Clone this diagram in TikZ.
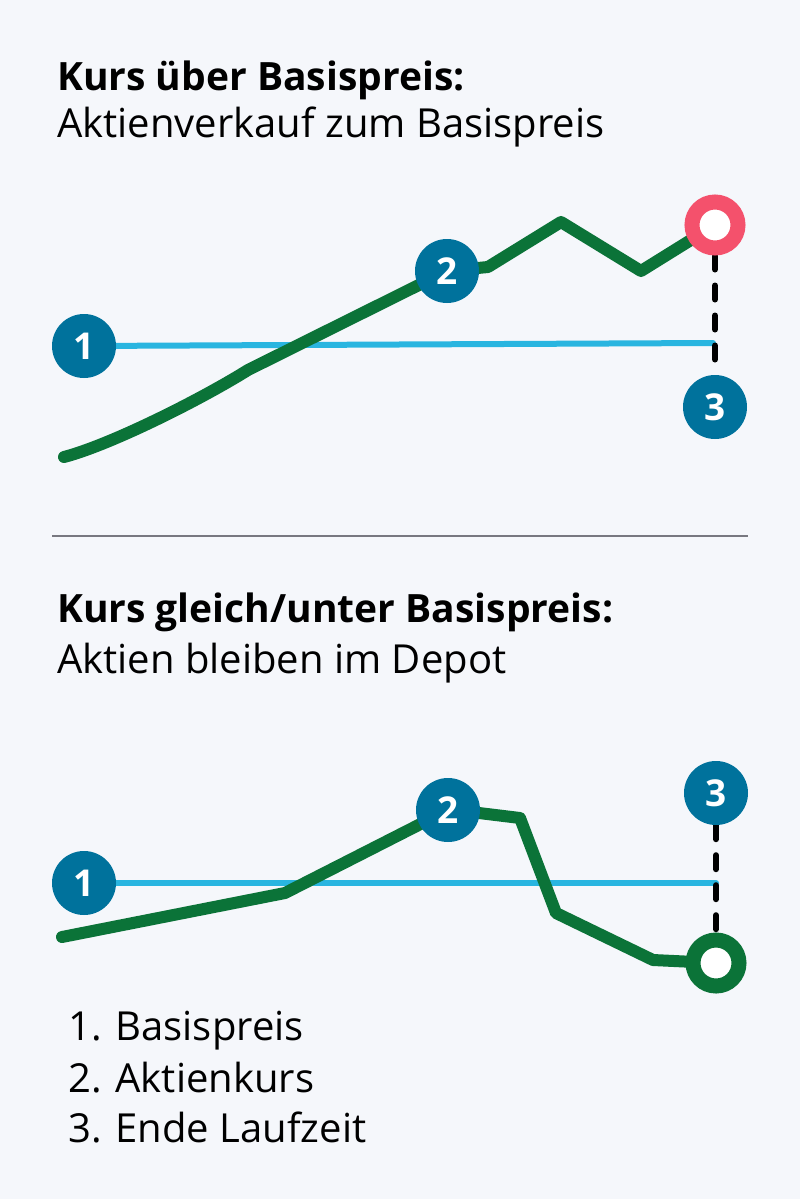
\documentclass[tikz,border=0pt]{standalone}
\usepackage{fontspec}
\setmainfont{Open Sans}
\usepackage{tikz}

\definecolor{hgrund}{RGB}{245,247,251}
\definecolor{dunkelblau}{RGB}{0,114,156}
\definecolor{hellblau}{RGB}{41,181,224}
\definecolor{kursgruen}{RGB}{11,115,56}
\definecolor{rosarot}{RGB}{244,81,108}
\definecolor{trenngrau}{RGB}{120,120,128}

\pgfdeclarelayer{hinten}
\pgfdeclarelayer{linien}
\pgfsetlayers{hinten,linien,main}

\begin{document}
\begin{tikzpicture}[x=1pt, y=-1pt,
    nummer/.style={circle, fill=dunkelblau, text=white, minimum size=64pt, inner sep=0pt,
        font=\fontsize{37}{37}\selectfont\bfseries},
    ring/.style={circle, draw=#1, line width=15pt, fill=white, minimum size=46pt, inner sep=0pt},
    kurs/.style={kursgruen, line width=12pt, line cap=round, line join=round},
    basis/.style={hellblau, line width=6pt, line cap=round},
    ende/.style={black, line width=6pt, line cap=round, dash pattern=on 14pt off 16pt},
    titel/.style={anchor=base west, inner sep=0pt, font=\fontsize{39}{39}\selectfont\bfseries},
    zeile/.style={anchor=base west, inner sep=0pt, font=\fontsize{40}{40}\selectfont}]

    % Hintergrund
    \begin{pgfonlayer}{hinten}
        \fill[hgrund] (0,0) rectangle (800,1199);
    \end{pgfonlayer}
    \useasboundingbox (0,0) rectangle (800,1199);

    % Oben: Kurs über Basispreis
    \node[titel] (titelA) at (57,90) {Kurs über Basispreis:};
    \node[zeile] (untertitelA) at (57,137) {Aktienverkauf zum Basispreis};
    \node[nummer] (a1) at (84,346) {1};
    \node[nummer] (a2) at (447,271) {2};
    \node[nummer] (a3) at (715,407) {3};
    \node[ring=rosarot] (aende) at (715,225) {};
    \coordinate (abasis) at (713,343);
    \coordinate (astart) at (64,457);

    \begin{pgfonlayer}{linien}
        \draw[basis] (a1.center) -- (abasis);
        \draw[ende] (aende) -- (a3);
        \draw[kurs] (astart) .. controls (110,445) and (200,400) .. (248,370)
            -- (a2.center) -- (488,267) -- (561,222) -- (641,271) -- (aende.center);
    \end{pgfonlayer}

    % Trennlinie
    \draw[trenngrau, line width=2pt] (52,536) -- (748,536);

    % Unten: Kurs gleich/unter Basispreis
    \node[titel] (titelB) at (57,622) {Kurs gleich/unter Basispreis:};
    \node[zeile] (untertitelB) at (57,673) {Aktien bleiben im Depot};
    \node[nummer] (b1) at (84,883) {1};
    \node[nummer] (b2) at (448,810) {2};
    \node[nummer] (b3) at (716,793) {3};
    \node[ring=kursgruen] (bende) at (716,963) {};
    \coordinate (bbasis) at (716,883);
    \coordinate (bstart) at (62,937);

    \begin{pgfonlayer}{linien}
        \draw[basis] (b1.center) -- (bbasis);
        \draw[ende] (b3) -- (bende);
        \draw[kurs] (bstart) -- (285,893) -- (b2.center) -- (479,813) -- (520,818)
            -- (556,913) -- (653,960) -- (bende.center);
    \end{pgfonlayer}

    % Legende
    \node[zeile] (leg1) at (68,1040) {1. Basispreis};
    \node[zeile] (leg2) at (68,1092) {2. Aktienkurs};
    \node[zeile] (leg3) at (68,1142) {3. Ende Laufzeit};
\end{tikzpicture}
\end{document}
